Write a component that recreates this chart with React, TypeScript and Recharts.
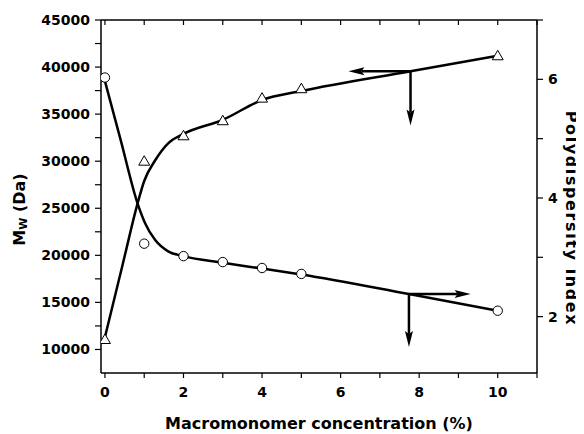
import { ComposedChart, Line, Scatter, XAxis, YAxis, ReferenceLine, Label } from "recharts";

const FONT = "'DejaVu Sans', Arial, sans-serif";

// measured points (macromonomer concentration, %)
const concentrations = [0, 1, 2, 3, 4, 5, 10];
const mwValues = [11060, 30000, 32700, 34300, 36700, 37700, 41200];
const pdiValues = [6.03, 3.23, 3.02, 2.92, 2.82, 2.72, 2.1];

// smooth guide curves
const mwCurveX = [0, 0.45, 0.83, 1.0, 1.28, 1.61, 2, 3, 4, 5, 7.78, 10];
const mwCurveY = [11300, 19000, 25500, 27900, 30100, 31900, 32900, 34400, 36500, 37450, 39550, 41200];
const pdiCurveX = [0, 0.4, 0.83, 1.02, 1.28, 1.61, 2, 3, 4, 5, 7.74, 10];
const pdiCurveY = [5.97, 4.98, 3.91, 3.58, 3.29, 3.1, 3.02, 2.91, 2.81, 2.71, 2.38, 2.1];

// arrows telling which axis each curve belongs to: [x, y] start, then tips
const mwArrowStart = [7.78, 39550];
const mwArrowTipX = 6.2;
const mwArrowTipY = 33800;
const pdiArrowStart = [7.74, 2.38];
const pdiArrowTipX = 9.31;
const pdiArrowTipY = 1.49;

// axes
const xDomain = [-0.1, 11];
const xTicks = [0, 1, 2, 3, 4, 5, 6, 7, 8, 9, 10, 11];
const xLabels = [0, 2, 4, 6, 8, 10];
const mwDomain = [7500, 45000];
const mwTicks = [10000, 12500, 15000, 17500, 20000, 22500, 25000, 27500, 30000, 32500, 35000, 37500, 40000, 42500, 45000];
const mwLabels = [10000, 15000, 20000, 25000, 30000, 35000, 40000, 45000];
const pdiTicks = [2, 3, 4, 5, 6, 7];
const pdiLabels = [2, 4, 6];

const toPoints = (xs: number[], ys: number[]) => xs.map((x, i) => ({ x, y: ys[i] }));

const mwPoints = toPoints(concentrations, mwValues);
const pdiPoints = toPoints(concentrations, pdiValues);
const mwCurve = toPoints(mwCurveX, mwCurveY);
const pdiCurve = toPoints(pdiCurveX, pdiCurveY);

const tickStyle = { fill: "#000", fontSize: 14, fontWeight: "bold", fontFamily: FONT };
const axisLine = { stroke: "#000", strokeWidth: 1.5 };
const tickLine = { stroke: "#000", strokeWidth: 1.2 };

function Arrow(p: any) {
    const { x1, y1, x2, y2 } = p;
    const dx = x2 - x1;
    const dy = y2 - y1;
    const len = Math.hypot(dx, dy) || 1;
    const ux = dx / len;
    const uy = dy / len;
    const head = 16;
    const half = 4;
    const bx = x2 - ux * head;
    const by = y2 - uy * head;
    return (
        <g>
            <line x1={x1} y1={y1} x2={bx + ux * 3} y2={by + uy * 3} stroke="#000" strokeWidth={2.5} />
            <polygon
                points={`${x2},${y2} ${bx - uy * half},${by + ux * half} ${bx + ux * 3},${by + uy * 3} ${bx + uy * half},${by - ux * half}`}
                fill="#000"
            />
        </g>
    );
}

// top frame: line across the plot top with short inward ticks
function TopFrame(p: any) {
    const { x1, y1, x2 } = p;
    const px = (v: number) => x1 + ((v - xDomain[0]) / (xDomain[1] - xDomain[0])) * (x2 - x1);
    return (
        <g>
            <line x1={x1} y1={y1} x2={x2} y2={y1} {...axisLine} />
            {xTicks.map((v) => (
                <line key={v} x1={px(v)} y1={y1} x2={px(v)} y2={y1 + 5} {...tickLine} />
            ))}
        </g>
    );
}

function MwTitle(props: any) {
    const vb = props.viewBox;
    const cx = vb.x + 11;
    const cy = vb.y + vb.height / 2 + 13;
    return (
        <text
            x={cx}
            y={cy}
            transform={`rotate(-90, ${cx}, ${cy})`}
            textAnchor="middle"
            dominantBaseline="central"
            fontFamily={FONT}
            fontWeight="bold"
            fontSize={16}
            fill="#000"
        >
            M
            <tspan fontSize={11} dy={4}>W</tspan>
            <tspan dy={-4}> (Da)</tspan>
        </text>
    );
}

function PdiTitle(props: any) {
    const vb = props.viewBox;
    const cx = vb.x + vb.width - 13;
    const cy = vb.y + vb.height / 2 + 22;
    return (
        <text
            x={cx}
            y={cy}
            transform={`rotate(90, ${cx}, ${cy})`}
            textAnchor="middle"
            dominantBaseline="central"
            fontFamily={FONT}
            fontWeight="bold"
            fontSize={16}
            letterSpacing={1.6}
            fill="#000"
        >
            Polydispersity index
        </text>
    );
}

const CircleMark = (p: any) => <circle cx={p.cx} cy={p.cy} r={4.7} fill="#fff" stroke="#000" strokeWidth={1} />;
const TriangleMark = (p: any) => (
    <polygon
        points={`${p.cx},${p.cy - 5.5} ${p.cx + 5.5},${p.cy + 4} ${p.cx - 5.5},${p.cy + 4}`}
        fill="#fff"
        stroke="#000"
        strokeWidth={1}
    />
);

export default function App() {
    return (
        <ComposedChart width={576} height={426} margin={{ top: 12, right: 0, bottom: 0, left: 0 }}>
            <XAxis
                xAxisId="b"
                type="number"
                dataKey="x"
                domain={xDomain}
                ticks={xTicks}
                interval={0}
                allowDataOverflow
                height={61}
                tickSize={5}
                tickMargin={9}
                axisLine={axisLine}
                tickLine={tickLine}
                tick={tickStyle}
                tickFormatter={(v: number) => (xLabels.includes(v) ? String(v) : "")}
            >
                <Label
                    value="Macromonomer concentration (%)"
                    position="insideBottom"
                    offset={5}
                    style={{ fill: "#000", fontSize: 16, fontWeight: "bold", fontFamily: FONT }}
                />
            </XAxis>
            <YAxis
                yAxisId="mw"
                type="number"
                domain={mwDomain}
                ticks={mwTicks}
                interval={0}
                allowDataOverflow
                width={93}
                tickSize={6}
                tickMargin={5}
                axisLine={axisLine}
                tickLine={tickLine}
                tick={tickStyle}
                tickFormatter={(v: number) => (mwLabels.includes(v) ? String(v) : "")}
            >
                <Label content={<MwTitle />} />
            </YAxis>
            <YAxis
                yAxisId="pdi"
                orientation="right"
                type="number"
                domain={[1.05, 7]}
                ticks={pdiTicks}
                interval={0}
                allowDataOverflow
                width={47}
                tickSize={6}
                tickMargin={5}
                axisLine={axisLine}
                tickLine={tickLine}
                tick={tickStyle}
                tickFormatter={(v: number) => (pdiLabels.includes(v) ? String(v) : "")}
            >
                <Label content={<PdiTitle />} />
            </YAxis>

            <ReferenceLine
                xAxisId="b"
                yAxisId="mw"
                segment={[{ x: xDomain[0], y: mwDomain[1] }, { x: xDomain[1], y: mwDomain[1] }]}
                shape={TopFrame}
                ifOverflow="visible"
            />

            <Line
                xAxisId="b"
                yAxisId="mw"
                data={mwCurve}
                dataKey="y"
                type="monotone"
                stroke="#000"
                strokeWidth={2.5}
                dot={false}
                isAnimationActive={false}
            />
            <Line
                xAxisId="b"
                yAxisId="pdi"
                data={pdiCurve}
                dataKey="y"
                type="monotone"
                stroke="#000"
                strokeWidth={2.5}
                dot={false}
                isAnimationActive={false}
            />

            <ReferenceLine
                xAxisId="b"
                yAxisId="mw"
                segment={[{ x: mwArrowStart[0], y: mwArrowStart[1] }, { x: mwArrowTipX, y: mwArrowStart[1] }]}
                shape={Arrow}
                ifOverflow="visible"
            />
            <ReferenceLine
                xAxisId="b"
                yAxisId="mw"
                segment={[{ x: mwArrowStart[0], y: mwArrowStart[1] }, { x: mwArrowStart[0], y: mwArrowTipY }]}
                shape={Arrow}
                ifOverflow="visible"
            />
            <ReferenceLine
                xAxisId="b"
                yAxisId="pdi"
                segment={[{ x: pdiArrowStart[0], y: pdiArrowStart[1] }, { x: pdiArrowTipX, y: pdiArrowStart[1] }]}
                shape={Arrow}
                ifOverflow="visible"
            />
            <ReferenceLine
                xAxisId="b"
                yAxisId="pdi"
                segment={[{ x: pdiArrowStart[0], y: pdiArrowStart[1] }, { x: pdiArrowStart[0], y: pdiArrowTipY }]}
                shape={Arrow}
                ifOverflow="visible"
            />

            <Scatter xAxisId="b" yAxisId="mw" data={mwPoints} dataKey="y" shape={TriangleMark} isAnimationActive={false} />
            <Scatter xAxisId="b" yAxisId="pdi" data={pdiPoints} dataKey="y" shape={CircleMark} isAnimationActive={false} />
        </ComposedChart>
    );
}
